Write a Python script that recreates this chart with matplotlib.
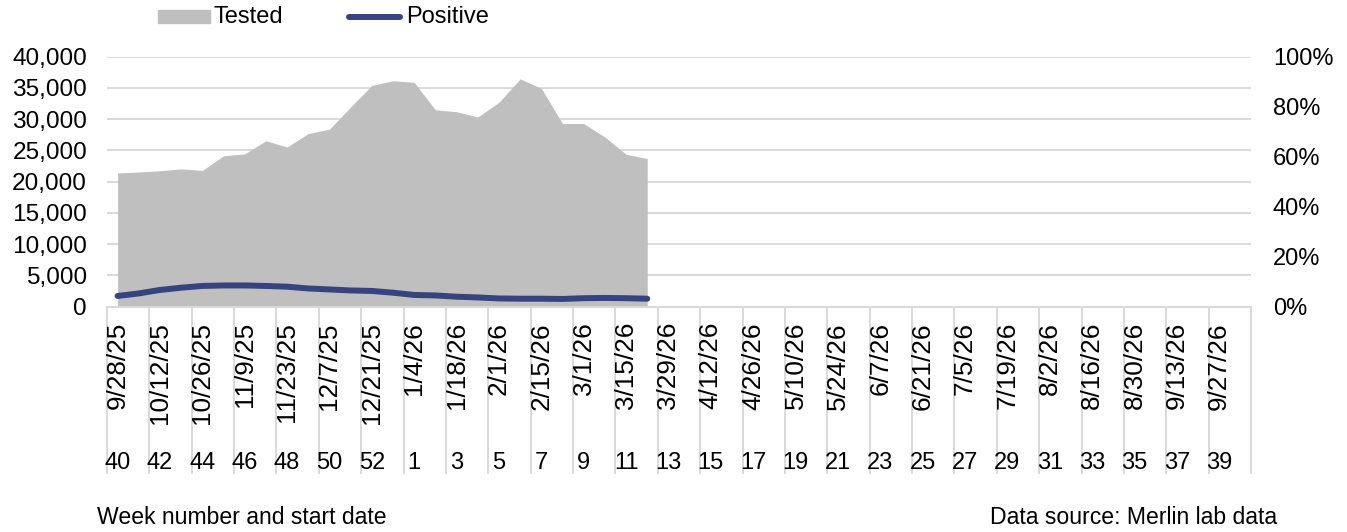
import matplotlib
matplotlib.use("Agg")
import matplotlib.pyplot as plt
import matplotlib.patches as mpatches
from matplotlib.lines import Line2D
from matplotlib.transforms import blended_transform_factory
import numpy as np

plt.rcParams["font.family"] = ["Liberation Sans", "DejaVu Sans"]

# weekly data, 9/28/25 onwards (54 week slots on the axis)
n_slots = 54
tested = [21400, 21550, 21750, 22050, 21800, 24150, 24450, 26550, 25550, 27700,
          28400, 31950, 35400, 36150, 35900, 31500, 31200, 30350, 32700, 36450,
          34950, 29300, 29300, 27150, 24400, 23700]
positive_pct = [4.3, 5.3, 6.7, 7.6, 8.3, 8.5, 8.5, 8.3, 8.0, 7.3,
                6.9, 6.5, 6.3, 5.6, 4.7, 4.5, 4.0, 3.7, 3.3, 3.2,
                3.2, 3.1, 3.4, 3.5, 3.4, 3.2]

date_labels = ["9/28/25", "10/12/25", "10/26/25", "11/9/25", "11/23/25", "12/7/25",
               "12/21/25", "1/4/26", "1/18/26", "2/1/26", "2/15/26", "3/1/26",
               "3/15/26", "3/29/26", "4/12/26", "4/26/26", "5/10/26", "5/24/26",
               "6/7/26", "6/21/26", "7/5/26", "7/19/26", "8/2/26", "8/16/26",
               "8/30/26", "9/13/26", "9/27/26"]
week_labels = ["40", "42", "44", "46", "48", "50", "52", "1", "3", "5", "7", "9",
               "11", "13", "15", "17", "19", "21", "23", "25", "27", "29", "31",
               "33", "35", "37", "39"]

GRAY = "#BFBFBF"
NAVY = "#36437F"
GRID = "#D9D9D9"
FS = 17

W, H = 1347, 532
fig = plt.figure(figsize=(W / 100, H / 100), dpi=100)
ax = fig.add_axes([107 / W, 1 - 306.7 / H, (1251 - 107) / W, 250 / H])

x = np.arange(len(tested))
ax.fill_between(x, 0, tested, color=GRAY, linewidth=0, zorder=2)
ax.set_xlim(-0.5, n_slots - 0.5)
ax.set_ylim(0, 40000)
ax.set_yticks(np.arange(0, 40001, 5000))
ax.set_yticklabels([f"{v:,}" for v in range(0, 40001, 5000)], fontsize=17.6)
ax.yaxis.grid(True, color=GRID, linewidth=1.4, zorder=0)
ax.set_axisbelow(True)
ax.set_xticks([])
ax.tick_params(axis="y", length=0, pad=14.4)
for s in ["top", "right", "left"]:
    ax.spines[s].set_visible(False)
ax.spines["bottom"].set_color(GRID)
ax.spines["bottom"].set_linewidth(1.4)

ax2 = ax.twinx()
ax2.plot(x, positive_pct, color=NAVY, linewidth=4.3, solid_capstyle="round",
         solid_joinstyle="round", zorder=3)
ax2.set_ylim(0, 100)
ax2.set_yticks(np.arange(0, 101, 20))
ax2.set_yticklabels([f"{v}%" for v in range(0, 101, 20)], fontsize=FS)
ax2.tick_params(axis="y", length=0, pad=15.8)
for s in ["top", "right", "left", "bottom"]:
    ax2.spines[s].set_visible(False)

# multi-level category axis: dates (rotated) and week numbers
tr = blended_transform_factory(ax.transData, fig.transFigure)
for k, (d, w) in enumerate(zip(date_labels, week_labels)):
    ax.text(2 * k, 1 - 322 / H, d, rotation=90, ha="center", va="top",
            fontsize=18.8, transform=tr, clip_on=False)
    ax.text(2 * k, 1 - 463 / H, w, ha="center", va="center",
            fontsize=FS, transform=tr, clip_on=False)
for k in range(n_slots // 2 + 1):
    xs = -0.5 + 2 * k
    ax.plot([xs, xs], [1 - 307 / H, 1 - 473 / H], color=GRID, linewidth=1.4,
            transform=tr, clip_on=False)

# legend
fig.patches.append(mpatches.Rectangle((158 / W, 1 - 23 / H), 52 / W, 13 / H,
                                      transform=fig.transFigure, color=GRAY))
fig.text(214 / W, 1 - 17 / H, "Tested", fontsize=FS, va="center")
fig.lines.append(Line2D([349 / W, 400 / W], [1 - 17 / H, 1 - 17 / H],
                        transform=fig.transFigure, color=NAVY, linewidth=4.3,
                        solid_capstyle="round"))
fig.text(406 / W, 1 - 17 / H, "Positive", fontsize=FS, va="center")

fig.text(97 / W, 1 - 517 / H, "Week number and start date", fontsize=16.6, va="center")
fig.text(1277 / W, 1 - 517 / H, "Data source: Merlin lab data", fontsize=16.6,
         va="center", ha="right")

fig.savefig("out.png", dpi=100)
